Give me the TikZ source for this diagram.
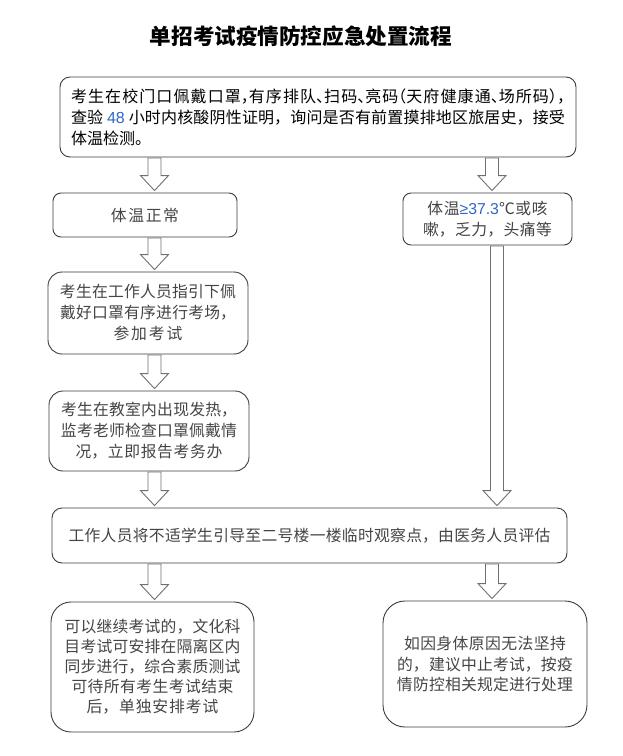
\documentclass[tikz,border=0pt]{standalone}
\usepackage{fontspec}
\setmainfont{Noto Sans CJK SC}
\newfontfamily\lat{Liberation Sans}
\usetikzlibrary{calc}
\XeTeXlinebreaklocale "zh"
\XeTeXlinebreakskip=0pt plus 1pt
\definecolor{txt}{HTML}{454545}
\definecolor{boxc}{HTML}{3C3C3C}
\definecolor{arrc}{HTML}{707070}
\definecolor{numc}{HTML}{2F66C8}
\newcommand\hpl[1]{\makebox[0.5em][l]{#1}}
\newcommand\hpr[1]{\makebox[0.5em][r]{#1}}
\newcommand\barrow[3]{%
  \draw[barrow] let \p1=(#1 |- #2.south), \p2=(#1 |- #3.north) in
   (\x1-6.5pt,\y1-0.5pt) -- (\x1-6.5pt,\y2+17pt) -- (\x1-14pt,\y2+17pt) -- (\x1,\y2+2pt)
   -- (\x1+14pt,\y2+17pt) -- (\x1+6.5pt,\y2+17pt) -- (\x1+6.5pt,\y1-0.5pt) -- cycle;}
\begin{document}
\begin{tikzpicture}[x=1pt,y=-1pt,
  box/.style={draw=boxc, line width=0.9pt, fill=white, rounded corners=#1,
    inner sep=0pt, align=center, text=txt,
    font=\fontsize{15.8}{21}\selectfont},
  box/.default=10pt,
  barrow/.style={draw=arrc, line width=0.9pt, fill=white, line join=miter},
  title/.style={font=\fontsize{21.6}{25}\selectfont\bfseries, text=black}]
\useasboundingbox[fill=white] (0,0) rectangle (623,756);

\node[title] (t) at (301,36) {单招考试疫情防控应急处置流程};

\node[box=10pt, minimum width=516pt, minimum height=80pt, text width=494pt,
  align=justify, text=black, font=\fontsize{16}{21}\selectfont] (b1) at (318,117)
  {考生在校门口佩戴口罩\hpl{，}有序排队\hpl{、}扫码\hpl{、}亮码\hpr{（}天府健康通\hpl{、}场所码\hpl{）}\hpl{，}\linebreak
   查验 {\lat\color{numc}48} 小时内核酸阴性证明，询问是否有前置摸排地区旅居史，接受\linebreak
   体温检测。};

\node[box=8pt, minimum width=184pt, minimum height=44pt, text width=170pt] (b2) at (145,215) {体温正常};

\node[box=8pt, minimum width=169pt, minimum height=52pt, text width=160pt] (b3) at (487.5,219)
  {体温{\lat\color{numc}≥37.3}℃或咳\\嗽，乏力，头痛等};

\node[box=14pt, minimum width=200pt, minimum height=82pt, text width=190pt] (b4) at (148,313)
  {考生在工作人员指引下佩\\戴好口罩有序进行考场，\\参加考试};

\node[box=14pt, minimum width=200pt, minimum height=80pt, text width=190pt] (b5) at (149,431)
  {考生在教室内出现发热，\\监考老师检查口罩佩戴情\\况，立即报告考务办};

\node[box=10pt, minimum width=515pt, minimum height=55pt, text width=500pt] (b6) at (309.5,535.5)
  {工作人员将不适学生引导至二号楼一楼临时观察点，由医务人员评估};

\node[box=20pt, minimum width=203pt, minimum height=130pt, text width=190pt,
  font=\fontsize{15.8}{20}\selectfont] (b7) at (152.5,667)
  {可以继续考试的，文化科\\目考试可安排在隔离区内\\同步进行，综合素质测试\\可待所有考生考试结束\\后，单独安排考试};

\node[box=22pt, minimum width=204pt, minimum height=126pt, text width=190pt,
  font=\fontsize{15.8}{20.5}\selectfont] (b8) at (485,664)
  {如因身体原因无法坚持\\的，建议中止考试，按疫\\情防控相关规定进行处理};

\coordinate (xl) at (154.5,0);
\coordinate (xr) at (492,0);
\coordinate (xr2) at (497,0);

\barrow{xl}{b1}{b2}
\barrow{xr}{b1}{b3}
\barrow{xl}{b2}{b4}
\barrow{xl}{b4}{b5}
\barrow{xl}{b5}{b6}
\barrow{xr2}{b3}{b6}
\barrow{xl}{b6}{b7}
\barrow{xr}{b6}{b8}
\end{tikzpicture}
\end{document}
